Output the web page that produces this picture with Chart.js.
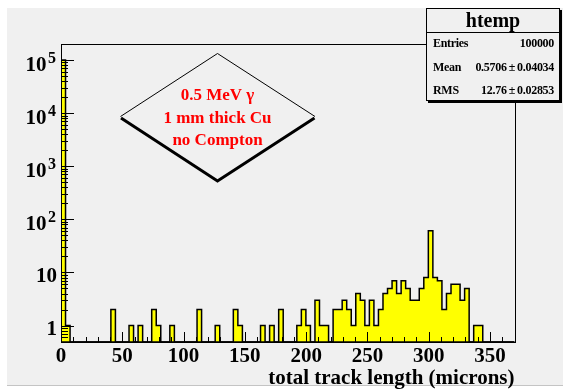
<!DOCTYPE html>
<html>
<head>
<meta charset="utf-8">
<script src="https://cdn.jsdelivr.net/npm/chart.js@4.4.1/dist/chart.umd.min.js"></script>
<style>
  html, body { margin: 0; padding: 0; background: #fff; }
  body { width: 563px; height: 390px; position: relative; overflow: hidden; font-family: "Liberation Serif", "Times New Roman", serif; }
  #pad { position: absolute; left: 7px; top: 8px; width: 556px; height: 377px; background: #f0f0f0; border-bottom: 1px solid #c4c4c4; }
  #chart { position: absolute; left: 0; top: 0; }
  #stats { position: absolute; left: 426px; top: 8px; width: 132px; height: 91px; background: #f0f0f0; border: 1px solid #000; box-shadow: 2px 2px 0 #000; font-weight: bold; color: #000; }
  #stats .title { height: 23px; line-height: 23px; text-align: center; font-size: 20px; border-bottom: 1px solid #000; }
  #stats .row { position: absolute; left: 6px; right: 5px; height: 23px; line-height: 23px; font-size: 12px; letter-spacing: -0.3px; }
  #stats .row span { float: right; }
</style>
</head>
<body>
<div id="pad"></div>
<canvas id="chart" width="563" height="390"></canvas>
<div id="stats">
  <div class="title">htemp</div>
  <div class="row" style="top:23px">Entries<span>100000</span></div>
  <div class="row" style="top:47px">Mean<span>0.5706&thinsp;&plusmn;&thinsp;0.04034</span></div>
  <div class="row" style="top:70px">RMS<span>12.76&thinsp;&plusmn;&thinsp;0.02853</span></div>
</div>

<script>
/* ================= DATA ================= */
// 100 bins of 3.7 microns, 0 -> 370
const binCounts = [
    99793, 1, 0, 0, 0, 0, 0, 0, 0, 0,
    0, 2, 0, 0, 0, 1, 0, 1, 0, 0,
    2, 1, 0, 0, 1, 0, 0, 0, 0, 0,
    2, 0, 0, 0, 1, 0, 0, 0, 2, 1,
    0, 0, 0, 0, 1, 0, 1, 0, 2, 0,
    0, 0, 1, 2, 1, 0, 3, 1, 1, 0,
    2, 2, 3, 2, 1, 4, 3, 1, 3, 1,
    2, 4, 5, 7, 4, 7, 5, 3, 3, 5,
    8, 61, 8, 7, 2, 4, 6, 6, 3, 5,
    0, 1, 1, 0, 0, 0, 0, 0, 0, 0
];

const xTickValues = [0, 50, 100, 150, 200, 250, 300, 350];
const yTickValues = [1, 10, 100, 1000, 10000, 100000];
const yTickLabels = ["1", "10", "10^2", "10^3", "10^4", "10^5"];
const noteLines = ["0.5 MeV \u03b3", "1 mm thick Cu", "no Compton"];

const X_MIN = 0;
const X_MAX = 370;
const Y_MIN = 0.49;
const Y_MAX = 2e5;
const BIN_WIDTH = (X_MAX - X_MIN) / binCounts.length;

const SERIF = "'Liberation Serif', 'Times New Roman', serif";

// step outline: one point per bin left edge + closing edge
const histPoints = binCounts.map((c, i) => ({
    x: X_MIN + i * BIN_WIDTH,
    y: c > 0 ? c : Y_MIN
}));
histPoints.push({ x: X_MAX, y: Y_MIN });

/* ================= ROOT STYLE FRAME / TICKS ================= */
const rootFrame = {
    id: "rootFrame",
    afterDatasetsDraw(chart) {
        const { ctx, chartArea: a } = chart;
        const xs = chart.scales.x;
        const ys = chart.scales.y;
        ctx.save();
        ctx.strokeStyle = "#000";
        ctx.lineWidth = 1;

        // x ticks inside, every 10
        for (let v = X_MIN; v <= X_MAX; v += 10) {
            const px = Math.round(xs.getPixelForValue(v)) + 0.5;
            const len = v % 50 === 0 ? 10 : 5;
            ctx.beginPath();
            ctx.moveTo(px, a.bottom);
            ctx.lineTo(px, a.bottom - len);
            ctx.stroke();
        }

        // y ticks inside, log decades + minors
        for (let e = -1; e <= 5; e++) {
            for (let m = 1; m <= 9; m++) {
                const v = m * Math.pow(10, e);
                if (v < Y_MIN || v > Y_MAX) continue;
                const py = Math.round(ys.getPixelForValue(v)) + 0.5;
                const len = m === 1 ? 13 : 7;
                ctx.beginPath();
                ctx.moveTo(a.left, py);
                ctx.lineTo(a.left + len, py);
                ctx.stroke();
            }
        }

        // frame
        ctx.strokeRect(Math.round(a.left) + 0.5, Math.round(a.top) + 0.5,
            Math.round(a.right - a.left), Math.round(a.bottom - a.top));
        ctx.lineWidth = 1.5;
        ctx.beginPath();
        ctx.moveTo(a.left, a.bottom);
        ctx.lineTo(a.right, a.bottom);
        ctx.stroke();

        // y labels with exponents
        ctx.fillStyle = "#000";
        yTickValues.forEach((v, i) => {
            const py = ys.getPixelForValue(v);
            const parts = yTickLabels[i].split("^");
            const right = a.left - 5;
            if (parts.length > 1) {
                ctx.font = "bold 16px " + SERIF;
                const supW = ctx.measureText(parts[1]).width;
                ctx.textAlign = "right";
                ctx.textBaseline = "alphabetic";
                ctx.fillText(parts[1], right, py + 2.7);
                ctx.font = "bold 21px " + SERIF;
                ctx.fillText(parts[0], right - supW - 1.5, py + 10.7);
            } else {
                ctx.font = "bold 21px " + SERIF;
                ctx.textAlign = "right";
                ctx.textBaseline = "alphabetic";
                ctx.fillText(parts[0], right + 1, py + 9.5);
            }
        });
        ctx.restore();
    },
    afterDraw(chart) {
        // diamond note
        const { ctx } = chart;
        ctx.save();
        ctx.strokeStyle = "#000";
        ctx.lineWidth = 1;
        ctx.beginPath();
        ctx.moveTo(120.5, 116.5);
        ctx.lineTo(217.5, 53.5);
        ctx.lineTo(315, 116.5);
        ctx.stroke();
        ctx.lineWidth = 3;
        ctx.beginPath();
        ctx.moveTo(121, 118);
        ctx.lineTo(217.5, 181);
        ctx.lineTo(314.5, 118);
        ctx.stroke();

        ctx.fillStyle = "#ff0000";
        ctx.font = "bold 17px " + SERIF;
        ctx.textAlign = "center";
        ctx.textBaseline = "alphabetic";
        noteLines.forEach((t, i) => {
            ctx.fillText(t, 217.5, 100 + i * 22.5);
        });
        ctx.restore();
    }
};

/* ================= CHART ================= */
const chart = new Chart(document.getElementById("chart"), {
    type: "line",
    data: {
        datasets: [{
            data: histPoints,
            stepped: true,
            fill: "start",
            backgroundColor: "#ffff00",
            borderColor: "#000",
            borderWidth: 1.5,
            pointRadius: 0,
            tension: 0
        }]
    },
    options: {
        responsive: false,
        devicePixelRatio: 1,
        animation: false,
        layout: { padding: { left: 0, top: 44, right: 48.5, bottom: 0 } },
        plugins: {
            legend: { display: false },
            tooltip: { enabled: false }
        },
        scales: {
            x: {
                type: "linear",
                position: "bottom",
                min: X_MIN,
                max: X_MAX,
                grid: { display: false, drawTicks: false },
                border: { display: false },
                afterBuildTicks: axis => {
                    axis.ticks = xTickValues.map(v => ({ value: v }));
                },
                afterFit: axis => { axis.height = 48; },
                ticks: {
                    color: "#000",
                    padding: 2,
                    maxRotation: 0,
                    autoSkip: false,
                    font: { family: SERIF, size: 21, weight: "bold" }
                },
                title: {
                    display: true,
                    text: "total track length (microns)",
                    align: "end",
                    color: "#000",
                    padding: { top: 0, bottom: 1 },
                    font: { family: SERIF, size: 21, weight: "bold", lineHeight: 1 }
                }
            },
            y: {
                type: "logarithmic",
                min: Y_MIN,
                max: Y_MAX,
                grid: { display: false, drawTicks: false },
                border: { display: false },
                ticks: { display: false },
                afterFit: axis => { axis.width = 61; }
            }
        }
    },
    plugins: [rootFrame]
});
</script>
</body>
</html>
